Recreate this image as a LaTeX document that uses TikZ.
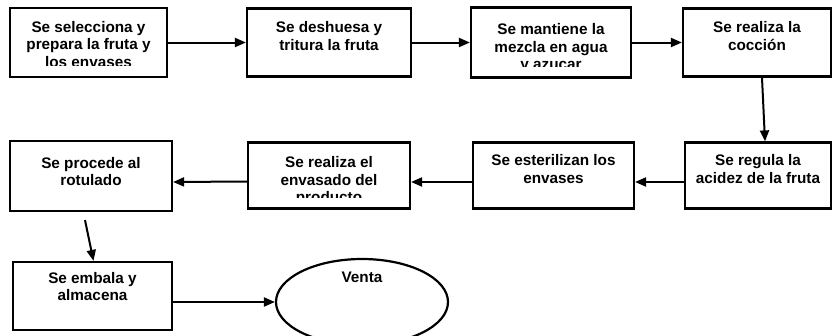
\documentclass[tikz,border=0pt]{standalone}
\usepackage{fontspec}
\setmainfont{Liberation Sans}
\usetikzlibrary{arrows.meta,shapes.geometric}

\tikzset{
  lbl/.style={rectangle, draw=none, minimum width=0pt, minimum height=0pt, inner sep=0pt, align=center, font=\bfseries\fontsize{15.3}{17.5}\selectfont},
  procbox/.style 2 args={draw, line width=2.2pt, inner sep=0pt,
    path picture={
      \node[lbl, anchor=north] at ([yshift=-#1]path picture bounding box.north) {#2};
      \fill[white] (path picture bounding box.south west) rectangle ([yshift=11pt]path picture bounding box.south east);
    }},
  flow/.style={-{Triangle[length=11pt,width=9pt]}, line width=2pt}
}

\begin{document}
\begin{tikzpicture}[x=1pt,y=-1pt]
\useasboundingbox (0,0) rectangle (836,335);

\node[procbox={12pt}{Se selecciona y\\prepara la fruta y\\los envases}, minimum width=157pt, minimum height=69pt] (sel) at (88.5,42.5) {};
\node[procbox={12pt}{Se deshuesa y\\tritura la fruta}, minimum width=164pt, minimum height=68pt] (desh) at (329,42.5) {};
\node[procbox={15pt}{Se mantiene la\\mezcla en agua\\y azucar}, minimum width=160pt, minimum height=70pt] (mant) at (551,42.5) {};
\node[procbox={12pt}{Se realiza la\\cocci\'on}, minimum width=148pt, minimum height=68pt] (coc) at (757,42.5) {};

\node[procbox={11pt}{Se regula la\\acidez de la fruta}, minimum width=146pt, minimum height=66pt] (reg) at (758,175.5) {};
\node[procbox={11pt}{Se esterilizan los\\envases}, minimum width=161pt, minimum height=66pt] (est) at (553.5,175.5) {};
\node[procbox={13pt}{Se realiza el\\envasado del\\producto}, minimum width=162pt, minimum height=66pt] (env) at (329,175.5) {};
\node[procbox={15pt}{Se procede al\\rotulado}, minimum width=162pt, minimum height=70pt] (rot) at (91,176) {};

\node[procbox={9pt}{Se embala y\\almacena}, minimum width=159pt, minimum height=68pt] (emb) at (92.5,296) {};
\node[ellipse, procbox={12pt}{Venta}, minimum width=172pt, minimum height=86pt] (ven) at (362,302) {};

\draw[flow] (sel) -- (desh);
\draw[flow] (desh) -- (mant);
\draw[flow] (mant) -- (coc);
\draw[flow] ([xshift=5pt]coc.south) -- ([xshift=7pt]reg.north);
\draw[flow] ([yshift=-6.5pt]reg.west) -- ([yshift=-6.5pt]est.east);
\draw[flow] ([yshift=-6.5pt]est.west) -- ([yshift=-6.5pt]env.east);
\draw[flow] ([yshift=-6pt]env.west) -- ([yshift=-6pt]rot.east);
\draw[flow] ([xshift=-6pt,yshift=-8pt]rot.south) -- ([xshift=1pt]emb.north);
\draw[flow] ([yshift=-6pt]emb.east) -- (ven.west);
\end{tikzpicture}
\end{document}
